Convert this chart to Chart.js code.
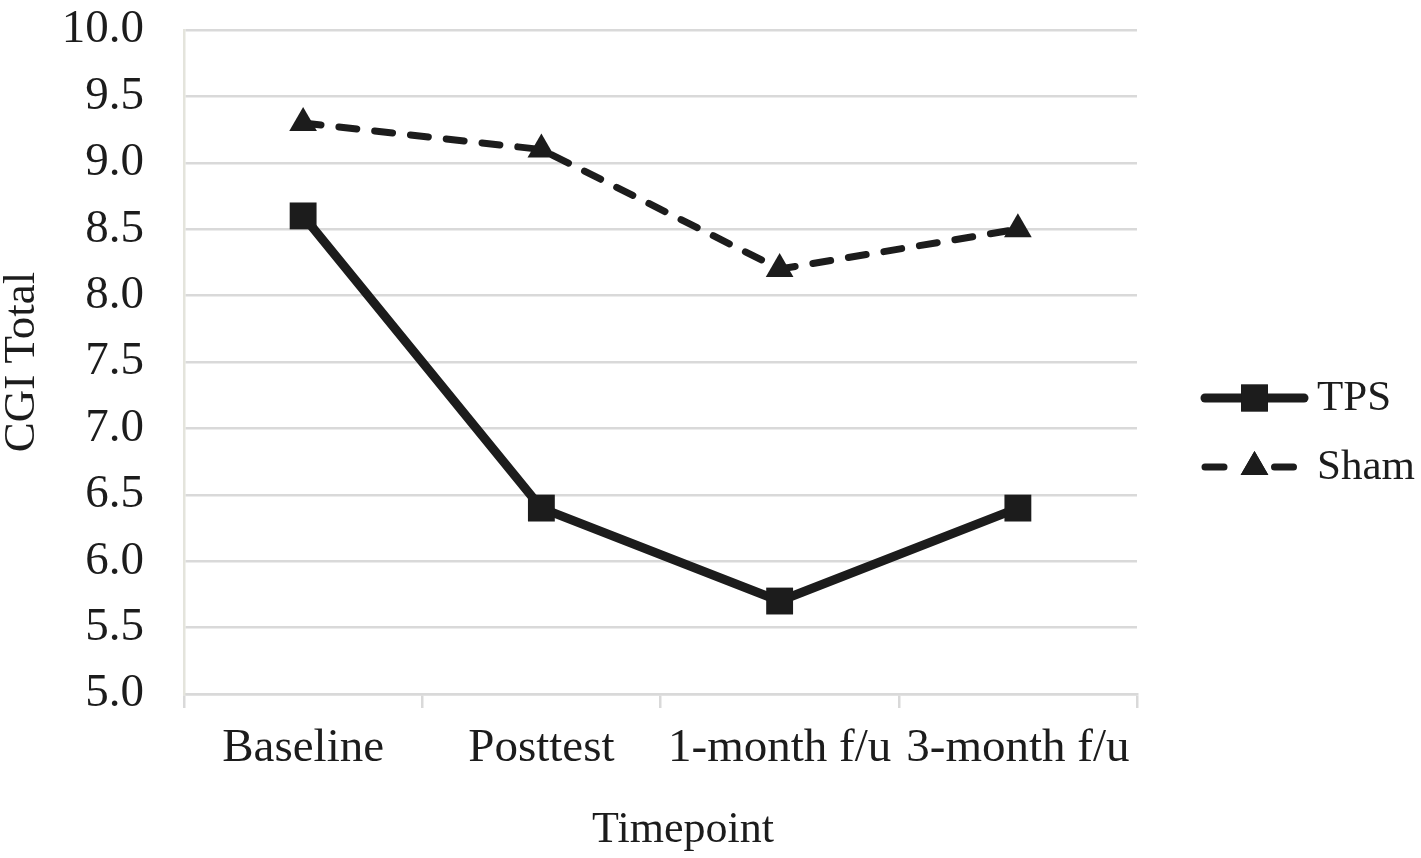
<!DOCTYPE html>
<html>
<head>
<meta charset="utf-8">
<script src="https://cdn.jsdelivr.net/npm/chart.js@4"></script>
<style>
  html, body { margin: 0; padding: 0; background: #fff; }
  #wrap { width: 1421px; height: 858px; }
</style>
</head>
<body>
<div id="wrap"><canvas id="cgiChart" width="1421" height="858"></canvas></div>
<script>
// data
const timepoints = ['Baseline', 'Posttest', '1-month f/u', '3-month f/u'];
const tpsValues = [8.6, 6.4, 5.7, 6.4];
const shamValues = [9.3, 9.1, 8.2, 8.5];
const yTicks = [5.0, 5.5, 6.0, 6.5, 7.0, 7.5, 8.0, 8.5, 9.0, 9.5, 10.0];

const FONT = '"Liberation Serif", "Times New Roman", serif';
const INK = '#1c1c1c';

// legend on the right (line + marker + label) and the x title
const sideLegend = {
  id: 'sideLegend',
  afterDraw(chart) {
    const ctx = chart.ctx;
    const rows = [398, 467];
    chart.data.datasets.forEach((ds, i) => {
      const y = rows[i];
      const x0 = 1202, x1 = 1307, xm = (x0 + x1) / 2;
      ctx.save();
      ctx.strokeStyle = ds.borderColor;
      ctx.lineWidth = ds.borderWidth;
      ctx.lineCap = 'round';
      ctx.beginPath();
      if (ds.borderDash && ds.borderDash.length) {
        ctx.moveTo(x0 + 3, y); ctx.lineTo(x0 + 22, y);
        ctx.moveTo(xm + 20, y); ctx.lineTo(xm + 39, y);
      } else {
        ctx.moveTo(x0 + 3, y); ctx.lineTo(x1 - 3, y);
      }
      ctx.stroke();
      Chart.helpers.drawPoint(ctx, {
        pointStyle: ds.pointStyle,
        radius: ds.pointRadius,
        borderWidth: 0
      }, xm, y);
      ctx.fillStyle = ds.pointBackgroundColor;
      ctx.fill();
      ctx.fillStyle = INK;
      ctx.font = '43px ' + FONT;
      ctx.textAlign = 'left';
      ctx.textBaseline = 'middle';
      ctx.fillText(ds.label, x1 + 10, y + 1);
      ctx.restore();
    });

    // x axis title, a bit right of the plot centre as in the original
    ctx.save();
    ctx.fillStyle = INK;
    ctx.font = '44px ' + FONT;
    ctx.textAlign = 'center';
    ctx.textBaseline = 'middle';
    ctx.fillText('Timepoint', 683, 830);
    ctx.restore();
  }
};

const ctx = document.getElementById('cgiChart').getContext('2d');
new Chart(ctx, {
  type: 'line',
  data: {
    labels: timepoints,
    datasets: [
      {
        label: 'TPS',
        data: tpsValues,
        borderColor: INK,
        borderWidth: 9,
        borderCapStyle: 'round',
        borderJoinStyle: 'round',
        pointStyle: 'rect',
        pointRadius: 19,
        pointBackgroundColor: INK,
        pointBorderWidth: 0,
        pointHoverRadius: 19,
        tension: 0,
        fill: false
      },
      {
        label: 'Sham',
        data: shamValues,
        borderColor: INK,
        borderWidth: 7,
        borderDash: [18, 18],
        borderCapStyle: 'round',
        borderJoinStyle: 'round',
        pointStyle: 'triangle',
        pointRadius: 16,
        pointBackgroundColor: INK,
        pointBorderWidth: 0,
        pointHoverRadius: 16,
        tension: 0,
        fill: false
      }
    ]
  },
  options: {
    responsive: false,
    animation: false,
    events: [],
    layout: { padding: { top: 30, right: 284, bottom: 0, left: 0 } },
    plugins: {
      legend: { display: false },
      tooltip: { enabled: false }
    },
    scales: {
      x: {
        offset: true,
        grid: {
          offset: true,
          drawOnChartArea: false,
          drawTicks: true,
          tickLength: 14,
          color: '#d9d9d9',
          lineWidth: 2.5
        },
        border: { display: true, color: '#d9d9d9', width: 2.5 },
        ticks: {
          color: INK,
          padding: 12,
          maxRotation: 0,
          autoSkip: false,
          font: { family: FONT, size: 47 }
        },
        title: { display: false },
        afterFit(scale) {
          scale.height = 164;
          scale.paddingLeft = 0;
          scale.paddingRight = 0;
        }
      },
      y: {
        min: 5,
        max: 10,
        afterBuildTicks(scale) { scale.ticks = yTicks.map(v => ({ value: v })); },
        grid: {
          drawTicks: false,
          color: '#d9d9d9',
          lineWidth: 2.5
        },
        border: { display: true, color: '#e4e4dc', width: 2.5 },
        ticks: {
          color: INK,
          padding: 40,
          font: { family: FONT, size: 47 },
          callback: v => Number(v).toFixed(1)
        },
        title: {
          display: true,
          text: 'CGI Total',
          color: INK,
          padding: { top: 0, bottom: 0 },
          font: { family: FONT, size: 45, lineHeight: 1.0 }
        },
        afterFit(scale) {
          scale.width = 184;
          scale.paddingTop = 0;
          scale.paddingBottom = 0;
        }
      }
    }
  },
  plugins: [sideLegend]
});
</script>
</body>
</html>
